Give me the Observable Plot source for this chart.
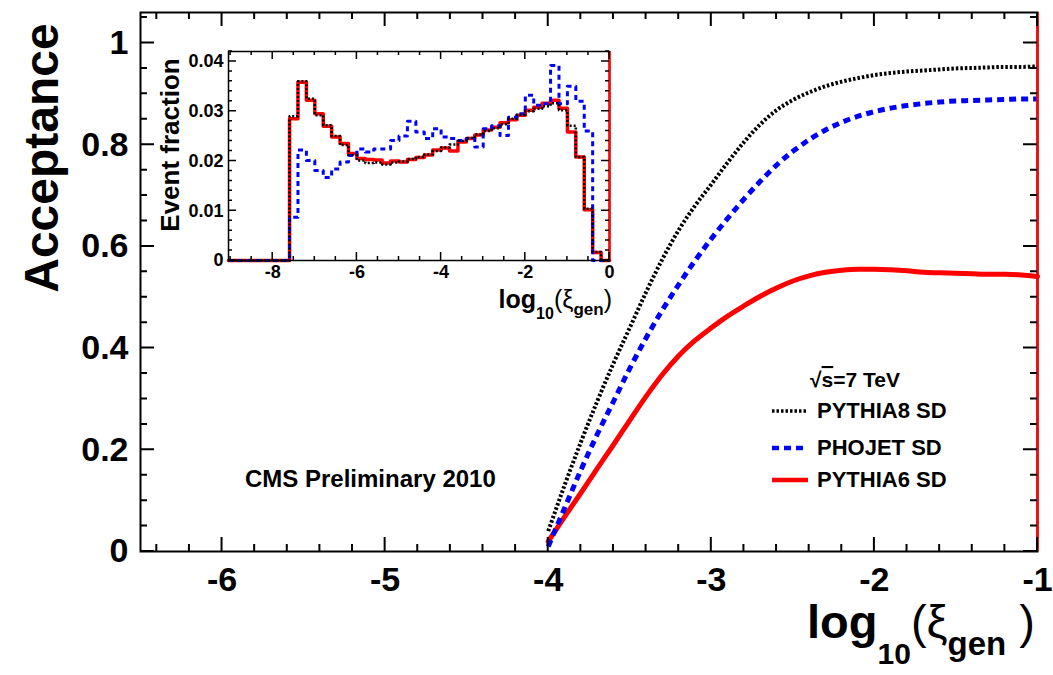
<!DOCTYPE html>
<html><head><meta charset="utf-8">
<script src="https://cdn.jsdelivr.net/npm/d3@7"></script>
<script src="https://cdn.jsdelivr.net/npm/@observablehq/plot@0.6"></script>
<style>
body{margin:0;background:#fff;}
#wrap{position:relative;width:1053px;height:675px;overflow:hidden;}
#wrap svg{position:absolute;max-width:none;}
</style></head><body><div id="wrap"></div>
<script>
// ---------- main panel data: acceptance vs log10(xi_gen) ----------
const accX = [-4.0,-3.9,-3.8,-3.7,-3.6,-3.5,-3.4,-3.3,-3.2,-3.1,-3.0,-2.9,-2.8,-2.7,-2.6,-2.5,-2.4,-2.3,-2.2,-2.1,-2.0,-1.9,-1.8,-1.7,-1.6,-1.5,-1.4,-1.3,-1.2,-1.1,-1.0];
const pythia8Acc = [0.04,0.13,0.215,0.295,0.37,0.44,0.51,0.575,0.632,0.68,0.722,0.765,0.805,0.84,0.868,0.888,0.903,0.915,0.924,0.931,0.937,0.941,0.944,0.946,0.948,0.950,0.951,0.952,0.953,0.953,0.954];
const phojetAcc  = [0.01,0.085,0.16,0.23,0.295,0.36,0.42,0.475,0.525,0.572,0.615,0.655,0.693,0.728,0.76,0.787,0.81,0.829,0.844,0.856,0.865,0.872,0.877,0.881,0.884,0.886,0.887,0.888,0.889,0.890,0.890];
const pythia6Acc = [0.02,0.068,0.115,0.163,0.21,0.258,0.305,0.348,0.385,0.415,0.44,0.463,0.483,0.502,0.518,0.532,0.542,0.549,0.553,0.555,0.555,0.554,0.552,0.549,0.548,0.547,0.546,0.545,0.545,0.544,0.541];
const xMajorTicks = [-6,-5,-4,-3,-2,-1];
const yMajorTicks = [0,0.2,0.4,0.6,0.8,1];
const seriesNames = ["PYTHIA8 SD","PHOJET SD","PYTHIA6 SD"];

// ---------- inset data: event fraction histograms ----------
const binStart = -7.6, binWidth = 0.2;
const pythia8Frac = [0.0290,0.0360,0.0325,0.0292,0.0272,0.0250,0.0232,0.0212,0.0201,0.0196,0.0197,0.0193,0.0197,0.0199,0.0204,0.0208,0.0213,0.0220,0.0227,0.0233,0.0240,0.0246,0.0253,0.0260,0.0266,0.0274,0.0285,0.0293,0.0300,0.0305,0.0310,0.0316,0.0302,0.0271,0.0208,0.0104,0.0017];
const phojetFrac  = [0.0087,0.0222,0.0201,0.0181,0.0167,0.0184,0.0198,0.0211,0.0224,0.0218,0.0224,0.0224,0.0241,0.0250,0.0280,0.0258,0.0245,0.0265,0.0248,0.0245,0.0241,0.0245,0.0228,0.0265,0.0271,0.0251,0.0288,0.0295,0.0332,0.0312,0.0315,0.0392,0.0315,0.0350,0.0320,0.0260,0];
const pythia6Frac = [0.0285,0.0358,0.0322,0.0295,0.0270,0.0248,0.0235,0.0215,0.0205,0.0203,0.0202,0.0196,0.0200,0.0198,0.0203,0.0207,0.0212,0.0222,0.0226,0.0220,0.0238,0.0245,0.0252,0.0262,0.0268,0.0277,0.0283,0.0292,0.0302,0.0308,0.0316,0.0322,0.0306,0.0258,0.0208,0.0102,0.0016];
const insetXTicks = [-8,-6,-4,-2,0];
const insetYTicks = [0,0.01,0.02,0.03,0.04];

const FONT = "'Liberation Sans', Arial, Helvetica, sans-serif";
const r3 = v => Math.round(v*10000)/10000;
const notIn = arr => v => !arr.some(t=>Math.abs(t-v)<1e-7);

// inward ticks on all four sides; positions come from the plot's own x/y scales
function drawTicks(plotEl, box, xMaj, xMin, yMaj, yMin, lMaj, lMin, sw, col){
  const sx = plotEl.scale("x"), sy = plotEl.scale("y");
  const fx = d3.scaleLinear(sx.domain, [box.l, box.r]);
  const fy = d3.scaleLinear(sy.domain, [box.b, box.t]);
  const X = v => { const p = sx.apply ? sx.apply(v) : NaN; return isFinite(p) ? p : fx(v); };
  const Y = v => { const p = sy.apply ? sy.apply(v) : NaN; return isFinite(p) ? p : fy(v); };
  const path = [];
  [[xMaj,lMaj],[xMin,lMin]].forEach(([arr,l])=>arr.forEach(v=>{const p=X(v);
    path.push(`M${p},${box.b}V${box.b-l}`, `M${p},${box.t}V${box.t+l}`);}));
  [[yMaj,lMaj],[yMin,lMin]].forEach(([arr,l])=>arr.forEach(v=>{const p=Y(v);
    path.push(`M${box.l},${p}H${box.l+l}`, `M${box.r},${p}H${box.r-l}`);}));
  const ns="http://www.w3.org/2000/svg";
  const el=document.createElementNS(ns,"path");
  el.setAttribute("d",path.join(""));
  el.setAttribute("fill","none");
  el.setAttribute("stroke",col);
  el.setAttribute("stroke-width",String(sw));
  plotEl.appendChild(el);
}

// ---------------- main plot ----------------
const W=1053,H=675,mL=140,mR=16,mT=12,mB=124;
const xDom=[-6.5,-1], yDom=[0,1.06];
const xMinor = d3.range(-6.4,-0.99,0.2).map(r3).filter(notIn(xMajorTicks));
const yMinor = d3.range(0.05,1.06,0.05).map(r3).filter(notIn(yMajorTicks));
const lineOf = arr => accX.map((x,i)=>({x, y: arr[i]}));

const main = Plot.plot({
  width:W, height:H, marginLeft:mL, marginRight:mR, marginTop:mT, marginBottom:mB,
  x:{domain:xDom}, y:{domain:yDom},
  style:{fontFamily:FONT, fontWeight:"bold", background:"white", color:"black"},
  marks:[
    Plot.axisX({ticks:xMajorTicks, tickSize:0, tickPadding:15, fontSize:34, label:null, tickFormat:d=>String(d)}),
    Plot.axisY({ticks:yMajorTicks, tickSize:0, tickPadding:12, fontSize:34, label:null, tickFormat:d=>String(d)}),
    Plot.line(lineOf(pythia6Acc),{x:"x", y:"y", curve:"monotone-x", stroke:"#ff0000", strokeWidth:5}),
    Plot.line(lineOf(phojetAcc),{x:"x", y:"y", curve:"monotone-x", stroke:"#0000ff", strokeWidth:5, strokeDasharray:"7,5", strokeLinecap:"butt"}),
    Plot.line(lineOf(pythia8Acc),{x:"x", y:"y", curve:"monotone-x", stroke:"#000000", strokeWidth:4, strokeDasharray:"2.5,2", strokeLinecap:"butt"}),
    Plot.frame({stroke:"black", strokeWidth:2}),
    Plot.ruleX([-1],{stroke:"#ff0000", strokeWidth:2.5})
  ]
});
document.getElementById("wrap").appendChild(main);
main.style.left="0px"; main.style.top="0px";
drawTicks(main, {l:mL, r:W-mR, t:mT, b:H-mB}, xMajorTicks, xMinor, yMajorTicks, yMinor, 14, 7, 2, "#000");

// ---------------- inset plot ----------------
const iX0=150, iY0=40, iW=470, iH=290, iL=78, iR=11, iT=11, iB=70;
const iDomX=[-9.05,0], iDomY=[0,0.042];
const iXMinor = d3.range(-9,0.01,0.5).map(r3).filter(notIn(insetXTicks));
const iYMinor = d3.range(0.002,0.0421,0.002).map(r3).filter(notIn(insetYTicks));
function steps(vals){
  const pts=[{x:iDomX[0], y:0}];
  vals.forEach((v,i)=>pts.push({x:binStart+i*binWidth, y:v}));
  pts.push({x:binStart+vals.length*binWidth, y:0});
  pts.push({x:iDomX[1], y:0});
  return pts;
}
const inset = Plot.plot({
  width:iW, height:iH, marginLeft:iL, marginRight:iR, marginTop:iT, marginBottom:iB,
  x:{domain:iDomX}, y:{domain:iDomY},
  style:{fontFamily:FONT, fontWeight:"bold", background:"transparent", color:"black"},
  marks:[
    Plot.axisX({ticks:insetXTicks, tickSize:0, tickPadding:5, fontSize:18, label:null, tickFormat:d=>String(d)}),
    Plot.axisY({ticks:insetYTicks, tickSize:0, tickPadding:5, fontSize:18, label:null, tickFormat:d=>d===0?"0":d.toFixed(2)}),
    Plot.line(steps(pythia6Frac),{x:"x", y:"y", curve:"step-after", stroke:"#ff0000", strokeWidth:3.5}),
    Plot.line(steps(phojetFrac),{x:"x", y:"y", curve:"step-after", stroke:"#0000ff", strokeWidth:3, strokeDasharray:"5,4", strokeLinecap:"butt"}),
    Plot.line(steps(pythia8Frac),{x:"x", y:"y", curve:"step-after", stroke:"#000000", strokeWidth:2.5, strokeDasharray:"2,2", strokeLinecap:"butt"}),
    Plot.frame({stroke:"black", strokeWidth:1.5}),
    Plot.ruleX([0],{stroke:"#ff0000", strokeWidth:2.5})
  ]
});
document.getElementById("wrap").appendChild(inset);
inset.style.left=iX0+"px"; inset.style.top=iY0+"px";
drawTicks(inset, {l:iL, r:iW-iR, t:iT, b:iH-iB}, insetXTicks, iXMinor, insetYTicks, iYMinor, 8, 4, 1.5, "#000");

// ---------------- texts ----------------
const svg = d3.select(main);
const txt = (x,y,size,anchor) => svg.append("text").attr("x",x).attr("y",y)
   .attr("text-anchor",anchor||"start").style("font-size",size+"px").style("font-weight","bold")
   .style("font-family",FONT).attr("fill","black");

// y title
svg.append("text").attr("transform","translate(58,158) rotate(-90)").attr("text-anchor","middle")
  .style("font-size","48px").style("font-weight","bold").style("font-family",FONT).text("Acceptance");

// x title
{
  const t = txt(1035,638,47,"end");
  t.append("tspan").text("log");
  t.append("tspan").attr("dy",26).style("font-size","30px").text("10");
  t.append("tspan").attr("dy",-26).style("font-weight","normal").text("(ξ");
  t.append("tspan").attr("dy",17).style("font-size","33px").text("gen");
  t.append("tspan").attr("dy",-17).style("font-weight","normal").text(" )");
}
// CMS label
txt(245,487,24,"start").text("CMS Preliminary 2010");

// legend
{
  const t = txt(810,387,21,"start");
  t.append("tspan").text("√");
  t.append("tspan").style("text-decoration","overline").text("s");
  t.append("tspan").text("=7 TeV");
  const ys=[418,455,487];
  const sty=[{c:"#000",w:3.5,d:"2.5,2"},{c:"#0000ff",w:4.5,d:"7,5"},{c:"#ff0000",w:4.5,d:null}];
  seriesNames.forEach((n,i)=>{
    const l=svg.append("line").attr("x1",772).attr("x2",808).attr("y1",ys[i]-7).attr("y2",ys[i]-7)
      .attr("stroke",sty[i].c).attr("stroke-width",sty[i].w);
    if(sty[i].d) l.attr("stroke-dasharray",sty[i].d);
    txt(817,ys[i],22,"start").text(n);
  });
}

// inset texts (drawn on inset svg, in its coordinates)
const isvg = d3.select(inset);
isvg.append("text").attr("transform",`translate(${179-iX0},${145-iY0}) rotate(-90)`).attr("text-anchor","middle")
  .style("font-size","26px").style("font-weight","bold").style("font-family",FONT).text("Event fraction");
{
  const t = isvg.append("text").attr("x",612-iX0).attr("y",308-iY0).attr("text-anchor","end")
    .style("font-size","25px").style("font-weight","bold").style("font-family",FONT);
  t.append("tspan").text("log");
  t.append("tspan").attr("dy",11).style("font-size","16px").text("10");
  t.append("tspan").attr("dy",-11).style("font-weight","normal").text("(ξ");
  t.append("tspan").attr("dy",7).style("font-size","17px").text("gen");
  t.append("tspan").attr("dy",-7).style("font-weight","normal").text(")");
}
</script></body></html>
